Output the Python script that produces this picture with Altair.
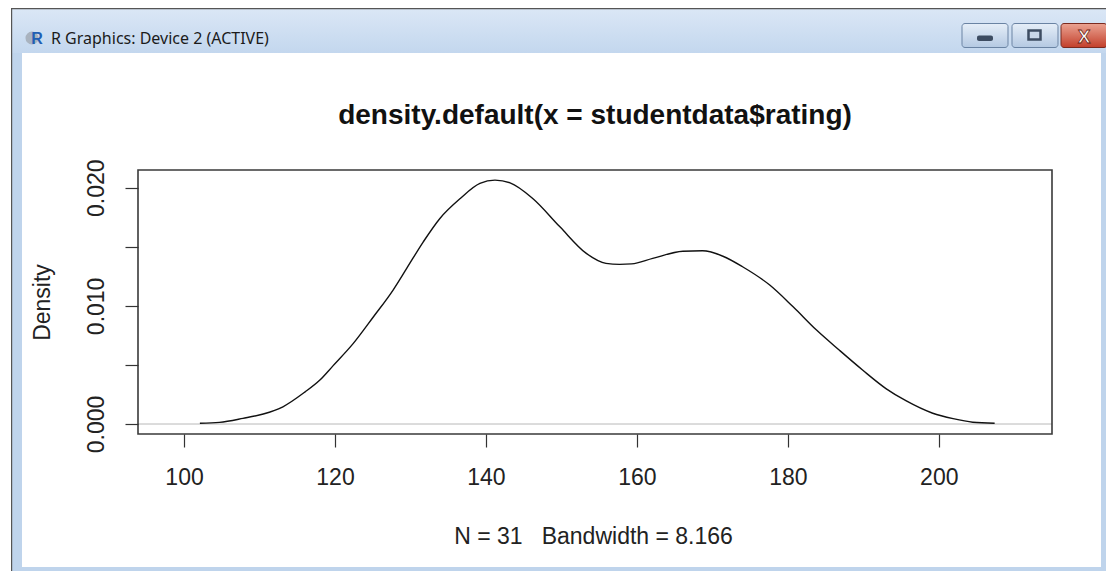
import altair as alt
import pandas as pd

# ---- data (R density curve) ----
rating = [102.1, 104.7, 107.8, 110.5, 113.1, 116.0, 118.0, 119.7, 122.4, 125.1,
          127.7, 129.5, 131.7, 133.9, 136.6, 139.2, 141.2, 143.2, 146.2, 149.8,
          153.3, 155.9, 157.7, 159.3, 162.1, 166.1, 168.7, 171.4, 174.0, 177.6,
          180.7, 183.8, 186.8, 189.9, 193.0, 195.7, 199.2, 201.9, 204.5, 207.4]
density = [0.00006, 0.00014, 0.00048, 0.00085, 0.00146, 0.00270, 0.00372, 0.00490, 0.00680, 0.00908,
           0.01134, 0.01317, 0.01542, 0.01740, 0.01909, 0.02036, 0.02064, 0.02041, 0.01909, 0.01669,
           0.01444, 0.01360, 0.01351, 0.01355, 0.01402, 0.01462, 0.01466, 0.01420, 0.01331, 0.01176,
           0.00992, 0.00795, 0.00626, 0.00457, 0.00300, 0.00195, 0.00091, 0.00045, 0.00015, 0.00006]
x_ticks = [100, 120, 140, 160, 180, 200]
y_ticks = [0.0, 0.005, 0.010, 0.015, 0.020]

main_title = "density.default(x = studentdata$rating)"
x_title = "N = 31\u00a0\u00a0\u00a0Bandwidth = 8.166"
y_title = "Density"
window_title = "R Graphics: Device 2 (ACTIVE)"

df = pd.DataFrame({"rating": rating, "density": density})
one = pd.DataFrame({"k": [0]})

FONT = "Liberation Sans"
OX, OY = 138, 170  # plot origin on the page
W, H = 914, 264
BLUE = "#bfd4ec"


def box(x1, y1, x2, y2, **kw):
    return alt.Chart(one).mark_rect(**kw).encode(
        x=alt.value(x1 - OX), x2=alt.value(x2 - OX),
        y=alt.value(y1 - OY), y2=alt.value(y2 - OY))


def label(x, y, text, **kw):
    return alt.Chart(one).mark_text(text=text, **kw).encode(
        x=alt.value(x - OX), y=alt.value(y - OY))


def grad(c1, c2):
    return alt.LinearGradient(gradient="linear",
                              stops=[alt.GradientStop(color=c1, offset=0),
                                     alt.GradientStop(color=c2, offset=1)],
                              x1=0, x2=0, y1=0, y2=1)


# ---- window chrome (kept to the borders, so nothing covers the axes) ----
titlebar = box(11, 8, 1120, 53, fill=grad("#dbe7f6", "#c3d7ee"))
left_bd = box(11, 53, 22, 620, fill=BLUE)
right_bd = box(1101, 53, 1120, 620, fill=BLUE)
bottom_bd = box(11, 567, 1120, 620, fill=BLUE)
edge_l = box(11, 8, 12.2, 620, fill="#555555")
edge_t = box(11, 8, 1120, 9.2, fill="#555555")
icon_c = alt.Chart(one).mark_circle(size=170, color="#a9b3bf", opacity=1).encode(
    x=alt.value(32 - OX), y=alt.value(38 - OY))
icon_r = label(37, 39, "R", font=FONT, fontSize=16, fontWeight="bold", color="#1f5fb4",
               align="center", baseline="middle")
wtitle = label(51, 38.5, window_title, font="Noto Sans", fontSize=16, color="#1b1b1b",
               align="left", baseline="middle")
btn_min = box(962, 23.5, 1008, 47.5, fill=grad("#e6eef8", "#b4c9e2"), stroke="#6a83a3",
              strokeWidth=1, cornerRadius=3)
btn_max = box(1012, 23.5, 1058, 47.5, fill=grad("#e6eef8", "#b4c9e2"), stroke="#6a83a3",
              strokeWidth=1, cornerRadius=3)
btn_close = box(1061, 23.5, 1107, 47.5, fill=grad("#eba392", "#c23f2b"), stroke="#7b2a1f",
                strokeWidth=1, cornerRadius=3)
ico_min = box(977, 35.5, 993, 41, fill="#3d4c61", cornerRadius=2)
ico_max = box(1028.5, 30.5, 1040.5, 39.5, fill="#c9d7e8", stroke="#3d4c61", strokeWidth=2.5)
ico_close = label(1084, 36.5, "X", font=FONT, fontSize=19, fontWeight="bold", fill="white",
                  stroke="#6b1d12", strokeWidth=0.8, align="center", baseline="middle")

# ---- plot ----
xscale = alt.Scale(domain=[93.9, 215.0], nice=False, zero=False)
yscale = alt.Scale(domain=[-0.000846, 0.0215], nice=False, zero=False)

heading = label(OX + W / 2, 124, main_title, font=FONT, fontSize=28, fontWeight="bold",
                color="#111111", align="center", baseline="alphabetic")
zero_line = alt.Chart(one).mark_rule(color="#b8b8b8", strokeWidth=1).encode(
    y=alt.datum(0.0, scale=yscale))
plot_box = box(OX, OY, OX + W, OY + H, fill="transparent", stroke="#3a3a3a", strokeWidth=1.6)

curve = alt.Chart(df).mark_line(color="#111111", strokeWidth=1.4, interpolate="monotone").encode(
    x=alt.X("rating:Q", scale=xscale,
            axis=alt.Axis(values=x_ticks, title=x_title, tickSize=13, labelPadding=19,
                          labelFontSize=23, titleFontSize=23, titleX=455, titleY=109.5,
                          titleBaseline="alphabetic", titleAlign="center", format="d",
                          zindex=1)),
    y=alt.Y("density:Q", scale=yscale,
            axis=alt.Axis(values=y_ticks, title=y_title, tickSize=13, labelPadding=21.5,
                          labelAngle=270, labelAlign="center", labelBaseline="alphabetic",
                          labelFontSize=23, titleFontSize=23, titleAngle=270,
                          titleBaseline="alphabetic", titleAlign="center",
                          titleX=-89, titleY=132, zindex=1,
                          labelExpr="round(datum.value*1000) % 10 == 0 ? format(datum.value, '.3f') : ''")),
)

chart = alt.layer(
    titlebar, left_bd, right_bd, bottom_bd, edge_l, edge_t, icon_c, icon_r, wtitle,
    btn_min, btn_max, btn_close, ico_min, ico_max, ico_close,
    heading, zero_line, plot_box, curve,
).properties(
    width=W, height=H,
    padding={"left": 130, "top": 162, "right": 54, "bottom": 137},
    autosize=alt.AutoSizeParams(type="none"),
).configure(background="white").configure_view(strokeWidth=0).configure_axis(
    grid=False, domain=False, tickColor="#333333", tickWidth=1.2,
    labelFont=FONT, titleFont=FONT, labelColor="#222222", titleColor="#222222",
    titleFontWeight="normal", labelOverlap=False, labelBound=False, labelFlush=False,
)

chart.save("out.html", embed_options={"renderer": "svg", "actions": False})
